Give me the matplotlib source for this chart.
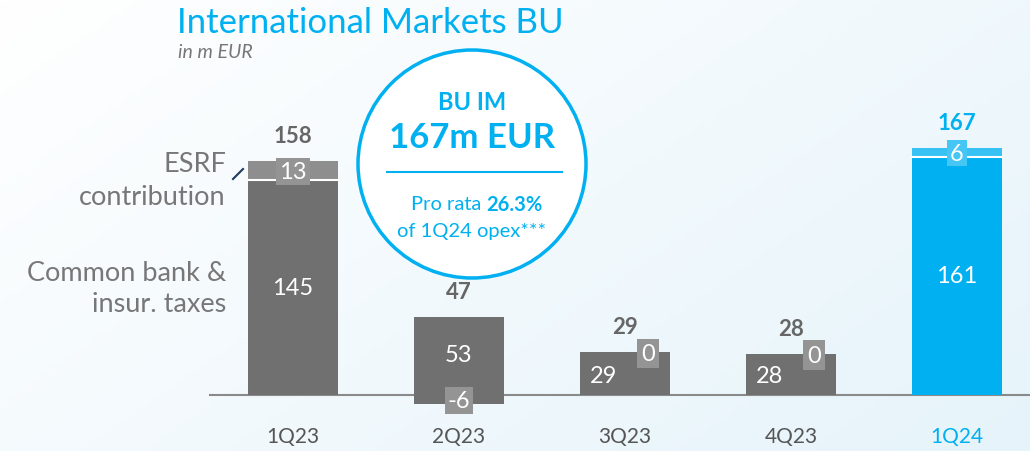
import numpy as np
import matplotlib.pyplot as plt
from matplotlib.patches import Circle

quarters = ['1Q23', '2Q23', '3Q23', '4Q23', '1Q24']
common_taxes = [145, 53, 29, 28, 161]
esrf = [13, -6, 0, 0, 6]
totals = [158, 47, 29, 28, 167]

plt.rcParams['font.family'] = ['Lato', 'DejaVu Sans']

grey = '#707070'
grey_top = '#8e8e8e'
grey_box = '#949494'
blue = '#00b0f0'
blue_top = '#38c2f3'
blue_box = '#45c6f4'
txt_grey = '#666666'

fig = plt.figure(figsize=(10.3, 4.52), dpi=100)

# background gradient + overlay in pixel coords
bg = fig.add_axes([0, 0, 1, 1], zorder=0)
xx = np.linspace(0, 1, 200)
yy = np.linspace(0, 1, 100)
X, Y = np.meshgrid(xx, yy)
g = np.clip(0.55 * X + 0.35 * Y, 0, 1)
c0 = np.array([1.0, 1.0, 1.0])
c1 = np.array([0.89, 0.95, 0.98])
img = c0[None, None, :] * (1 - g[..., None]) + c1[None, None, :] * g[..., None]
bg.imshow(img, extent=[0, 1030, 452, 0], aspect='auto')
bg.set_xlim(0, 1030)
bg.set_ylim(452, 0)
bg.axis('off')

# bars: 1.48 px per unit, baseline at y=396 px, 166 px between bars, first at x=293
ppu = 1.48
ax = fig.add_axes([0, 0, 1, 1], zorder=1)
ax.patch.set_alpha(0)
ax.set_ylim(-(452 - 396) / ppu, 396 / ppu)
ax.set_xlim(-293 / 166, (1030 - 293) / 166)
ax.axis('off')

x = np.arange(len(quarters))
w = 90 / 166
for i in x:
    main_c = blue if i == 4 else grey
    top_c = blue_top if i == 4 else grey_top
    box_c = blue_box if i == 4 else grey_box
    ax.bar(i, common_taxes[i], width=w, color=main_c, zorder=2)
    if esrf[i] > 0:
        ax.bar(i, esrf[i], bottom=common_taxes[i], width=w, color=top_c, zorder=2)
        ax.plot([i - w / 2, i + w / 2], [common_taxes[i]] * 2, color='white', lw=1.5, zorder=3)
        ax.text(i, common_taxes[i] + esrf[i] / 2 - 0.5, f'{esrf[i]}', ha='center', va='center',
                color='white', fontsize=17, zorder=5,
                bbox=dict(boxstyle='square,pad=0.12', fc=box_c, ec='none'))
        ax.text(i, common_taxes[i] / 2, f'{common_taxes[i]}', ha='center', va='center',
                color='white', fontsize=17, zorder=5)
    elif esrf[i] < 0:
        ax.bar(i, esrf[i], width=w, color=main_c, zorder=2)
        ax.text(i, esrf[i] / 2 - 0.5, f'{esrf[i]}', ha='center', va='center',
                color='white', fontsize=17, zorder=5,
                bbox=dict(boxstyle='square,pad=0.12', fc=box_c, ec='none'))
        ax.text(i, common_taxes[i] / 2 + 1, f'{common_taxes[i]}', ha='center', va='center',
                color='white', fontsize=17, zorder=5)
    else:
        ax.text(i + 0.14, common_taxes[i] - 1, f'{esrf[i]}', ha='center', va='center',
                color='white', fontsize=17, zorder=5,
                bbox=dict(boxstyle='square,pad=0.18', fc=box_c, ec='none'))
        ax.text(i - 0.13, common_taxes[i] / 2 - 1, f'{common_taxes[i]}', ha='center', va='center',
                color='white', fontsize=17, zorder=5)
    top = max(totals[i], common_taxes[i])
    ax.text(i, top + 10, f'{totals[i]}', ha='center', va='bottom', fontsize=16,
            fontweight='bold', color=blue if i == 4 else txt_grey, zorder=5)
    ax.text(i, -(437 - 396) / ppu, quarters[i], ha='center', va='center', fontsize=15,
            color=blue if i == 4 else '#555555', zorder=5)

ax.plot([-(293 - 210) / 166, (1030 - 293) / 166], [0, 0], color='#8a8a8a', lw=1.5, zorder=1)

# overlay texts in pixel coords
ov = fig.add_axes([0, 0, 1, 1], zorder=3)
ov.patch.set_alpha(0)
ov.set_xlim(0, 1030)
ov.set_ylim(452, 0)
ov.axis('off')

ov.text(177, 23, 'International Markets BU', fontsize=25, color=blue, va='center', ha='left')
ov.text(178, 53, 'in m EUR', fontsize=14, color='#777777', style='italic', va='center', ha='left')

ov.text(226, 181, 'ESRF\ncontribution', fontsize=19.5, color='#777777', ha='right', va='center',
        linespacing=1.4)
ov.text(226, 289, 'Common bank &\ninsur. taxes', fontsize=19.5, color='#777777', ha='right', va='center',
        linespacing=1.3)
ov.plot([233, 243], [180, 170], color='#1f3a5f', lw=1.5)

ov.add_patch(Circle((472, 165), 114, fc='white', ec=blue, lw=2.5, alpha=1, zorder=2))
ov.text(472, 103, 'BU IM', fontsize=17, fontweight='bold', color=blue, ha='center', va='center', zorder=4)
ov.text(472, 138, '167m EUR', fontsize=25, fontweight='bold', color=blue, ha='center', va='center', zorder=4)
ov.plot([387, 562], [173, 173], color=blue, lw=1.5, zorder=4)
ov.text(481, 205, 'Pro rata', fontsize=14.5, color=blue, ha='right', va='center', zorder=4)
ov.text(486, 205, '26.3%', fontsize=14.5, fontweight='bold', color=blue, ha='left', va='center', zorder=4)
ov.text(472, 232, 'of 1Q24 opex***', fontsize=14.5, color=blue, ha='center', va='center', zorder=4)

fig.savefig('out.png', dpi=100)
